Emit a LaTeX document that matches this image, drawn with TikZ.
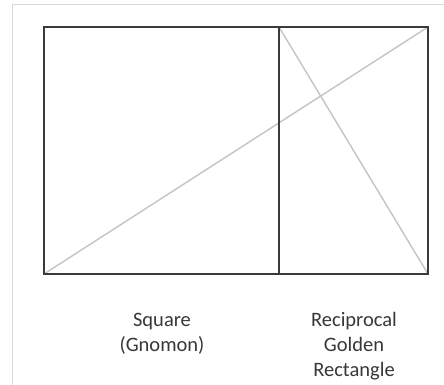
\documentclass[tikz,border=0pt]{standalone}
\usepackage{fontspec}
\setmainfont{Carlito}
\definecolor{framegray}{HTML}{D9D9D9}
\definecolor{edgegray}{HTML}{3A3A3A}
\definecolor{diaggray}{HTML}{C4C4C4}
\definecolor{textgray}{HTML}{383838}
\tikzset{
  frameline/.style={draw=framegray, line width=1pt},
  boxline/.style={draw=edgegray, line width=2pt, line join=miter},
  diagline/.style={draw=diaggray, line width=1.4pt},
  label/.style={text=textgray, font=\fontsize{20.5}{25}\selectfont, align=center, inner sep=0pt}
}
\begin{document}
\begin{tikzpicture}[x=1pt, y=-1pt]
\useasboundingbox (0,0) rectangle (444,385);
\fill[white] (0,0) rectangle (444,385);
% light frame
\coordinate (fbl) at (12.5,385);
\coordinate (ftl) at (12.5,4.5);
\coordinate (ftr) at (444,4.5);
\draw[frameline] (fbl) -- (ftl) -- (ftr);
% corners
\coordinate (tl) at (44,27);
\coordinate (tr) at (428,27);
\coordinate (bl) at (44,274);
\coordinate (br) at (428,274);
\coordinate (dt) at (279,27);
\coordinate (db) at (279,274);
% diagonals
\draw[diagline] (bl) -- (tr);
\draw[diagline] (dt) -- (br);
% rectangles
\draw[boxline] (tl) rectangle (br);
\draw[boxline] (dt) -- (db);
% labels
\node[label] (sq) at (162,334) {Square\\(Gnomon)};
\node[label] (rg) at (354,346) {Reciprocal\\Golden\\Rectangle};
\end{tikzpicture}
\end{document}
